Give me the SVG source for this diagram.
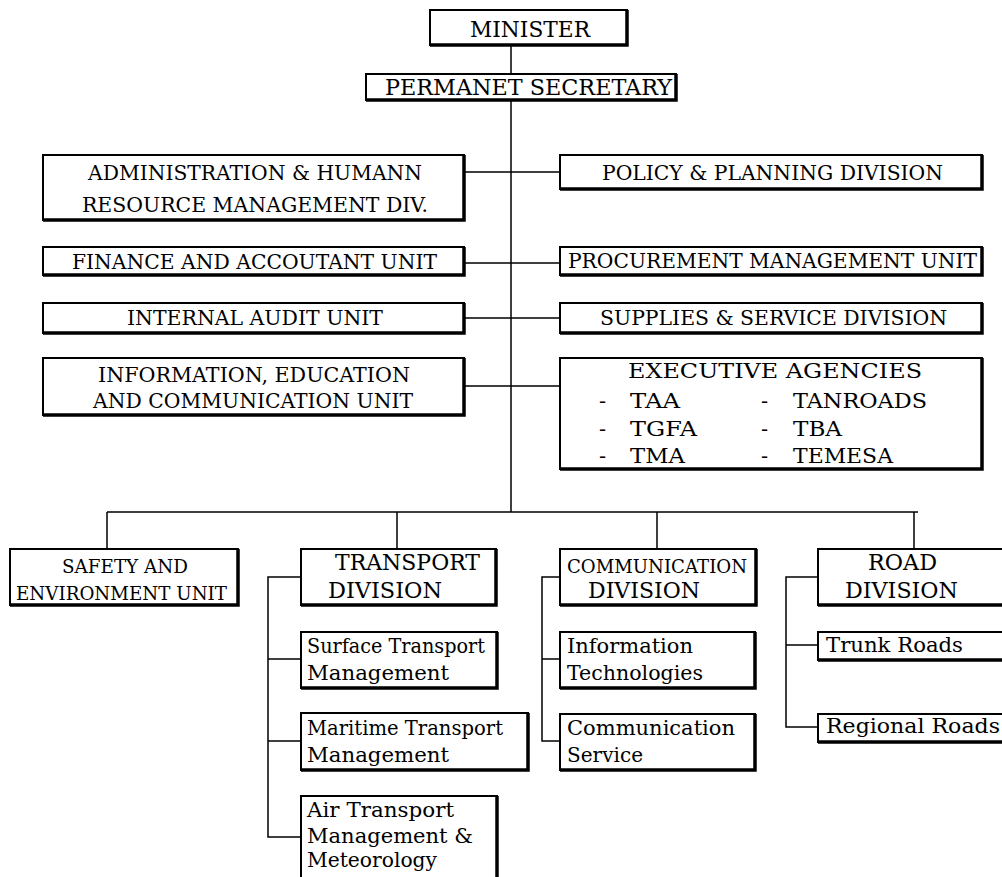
<svg xmlns="http://www.w3.org/2000/svg" width="1002" height="877" viewBox="0 0 1002 877">
<style>
.b rect{fill:#fff;stroke:#000;stroke-width:2}
.b path{fill:none;stroke:#000;stroke-width:3.5}
.c path{fill:none;stroke:#000;stroke-width:1.5}
text{font-family:'DejaVu Serif','Liberation Serif',serif;fill:#000;font-size:21px}
.s{font-size:18px}
.l{font-size:22px}
</style>
<rect width="1002" height="877" fill="#fff"/>
<g class="c" id="connectors">
<path d="M511 45V74M511 100V512"/>
<path d="M464 172H560M464 263H560M464 318H560M464 386H560"/>
<path d="M107 512H918M107 512V549M397 512V549M657 512V549M914 512V549"/>
<path d="M301 577H268V837H301M268 659H301M268 741H301"/>
<path d="M560 577H542V741H560M542 659H560"/>
<path d="M818 577H786V727H818M786 645H818"/>
</g>
<g class="b" id="minister"><rect x="430" y="10" width="197" height="35"/><path d="M627 10V45H430"/>
<text x="470" y="37" class="l" textLength="120" lengthAdjust="spacingAndGlyphs">MINISTER</text></g>
<g class="b" id="ps"><rect x="366" y="74" width="310" height="26"/><path d="M676 74V100H366"/>
<text x="385" y="95" class="l" textLength="287" lengthAdjust="spacingAndGlyphs">PERMANET SECRETARY</text></g>
<g class="b" id="admin"><rect x="43" y="155" width="421" height="65"/><path d="M464 155V220H43"/>
<text x="88" y="180" textLength="334" lengthAdjust="spacingAndGlyphs">ADMINISTRATION &amp; HUMANN</text>
<text x="82" y="212" textLength="346" lengthAdjust="spacingAndGlyphs">RESOURCE MANAGEMENT DIV.</text></g>
<g class="b" id="finance"><rect x="43" y="247" width="421" height="28"/><path d="M464 247V275H43"/>
<text x="72" y="269" textLength="365" lengthAdjust="spacingAndGlyphs">FINANCE AND ACCOUTANT UNIT</text></g>
<g class="b" id="audit"><rect x="43" y="303" width="421" height="30"/><path d="M464 303V333H43"/>
<text x="127" y="325" textLength="256" lengthAdjust="spacingAndGlyphs">INTERNAL AUDIT UNIT</text></g>
<g class="b" id="iec"><rect x="43" y="358" width="421" height="57"/><path d="M464 358V415H43"/>
<text x="98" y="382" textLength="312" lengthAdjust="spacingAndGlyphs">INFORMATION, EDUCATION</text>
<text x="93" y="408" textLength="320" lengthAdjust="spacingAndGlyphs">AND COMMUNICATION UNIT</text></g>
<g class="b" id="policy"><rect x="560" y="155" width="422" height="34"/><path d="M982 155V189H560"/>
<text x="602" y="180" textLength="341" lengthAdjust="spacingAndGlyphs">POLICY &amp; PLANNING DIVISION</text></g>
<g class="b" id="procurement"><rect x="560" y="247" width="422" height="28"/><path d="M982 247V275H560"/>
<text x="568" y="268" textLength="409" lengthAdjust="spacingAndGlyphs">PROCUREMENT MANAGEMENT UNIT</text></g>
<g class="b" id="supplies"><rect x="560" y="303" width="422" height="30"/><path d="M982 303V333H560"/>
<text x="600" y="325" textLength="347" lengthAdjust="spacingAndGlyphs">SUPPLIES &amp; SERVICE DIVISION</text></g>
<g class="b" id="exec"><rect x="560" y="358" width="422" height="111"/><path d="M982 358V469H560"/>
<text x="628" y="378" textLength="294" lengthAdjust="spacingAndGlyphs">EXECUTIVE AGENCIES</text>
<text x="599" y="408">-</text><text x="630" y="408" textLength="50" lengthAdjust="spacingAndGlyphs">TAA</text>
<text x="761" y="408">-</text><text x="793" y="408" textLength="134" lengthAdjust="spacingAndGlyphs">TANROADS</text>
<text x="599" y="436">-</text><text x="630" y="436" textLength="67" lengthAdjust="spacingAndGlyphs">TGFA</text>
<text x="761" y="436">-</text><text x="793" y="436" textLength="49" lengthAdjust="spacingAndGlyphs">TBA</text>
<text x="599" y="463">-</text><text x="630" y="463" textLength="55" lengthAdjust="spacingAndGlyphs">TMA</text>
<text x="761" y="463">-</text><text x="793" y="463" textLength="100" lengthAdjust="spacingAndGlyphs">TEMESA</text></g>
<g class="b" id="safety"><rect x="10" y="549" width="228" height="56"/><path d="M238 549V605H10"/>
<text x="62" y="573" class="s" textLength="126" lengthAdjust="spacingAndGlyphs">SAFETY AND</text>
<text x="16" y="600" class="s" textLength="211" lengthAdjust="spacingAndGlyphs">ENVIRONMENT UNIT</text></g>
<g class="b" id="transport"><rect x="301" y="549" width="195" height="56"/><path d="M496 549V605H301"/>
<text x="335" y="570" class="l" textLength="145" lengthAdjust="spacingAndGlyphs">TRANSPORT</text>
<text x="328" y="598" class="l" textLength="114" lengthAdjust="spacingAndGlyphs">DIVISION</text></g>
<g class="b" id="communication"><rect x="560" y="549" width="196" height="56"/><path d="M756 549V605H560"/>
<text x="567" y="573" class="s" textLength="180" lengthAdjust="spacingAndGlyphs">COMMUNICATION</text>
<text x="588" y="598" class="l" textLength="112" lengthAdjust="spacingAndGlyphs">DIVISION</text></g>
<g class="b" id="road"><rect x="818" y="549" width="200" height="56"/><path d="M1018 549V605H818"/>
<text x="868" y="570" class="l" textLength="69" lengthAdjust="spacingAndGlyphs">ROAD</text>
<text x="845" y="598" class="l" textLength="113" lengthAdjust="spacingAndGlyphs">DIVISION</text></g>
<g class="b" id="surface"><rect x="301" y="632" width="196" height="56"/><path d="M497 632V688H301"/>
<text x="307" y="653" textLength="178" lengthAdjust="spacingAndGlyphs">Surface Transport</text>
<text x="307" y="680" textLength="142" lengthAdjust="spacingAndGlyphs">Management</text></g>
<g class="b" id="maritime"><rect x="301" y="713" width="227" height="57"/><path d="M528 713V770H301"/>
<text x="307" y="735" textLength="196" lengthAdjust="spacingAndGlyphs">Maritime Transport</text>
<text x="307" y="762" textLength="142" lengthAdjust="spacingAndGlyphs">Management</text></g>
<g class="b" id="air"><rect x="301" y="796" width="196" height="100"/><path d="M497 796V896H301"/>
<text x="307" y="817" textLength="147" lengthAdjust="spacingAndGlyphs">Air Transport</text>
<text x="307" y="843" textLength="166" lengthAdjust="spacingAndGlyphs">Management &amp;</text>
<text x="307" y="867" textLength="130" lengthAdjust="spacingAndGlyphs">Meteorology</text></g>
<g class="b" id="infotech"><rect x="560" y="632" width="195" height="56"/><path d="M755 632V688H560"/>
<text x="567" y="653" textLength="126" lengthAdjust="spacingAndGlyphs">Information</text>
<text x="567" y="680" textLength="136" lengthAdjust="spacingAndGlyphs">Technologies</text></g>
<g class="b" id="commservice"><rect x="560" y="714" width="195" height="56"/><path d="M755 714V770H560"/>
<text x="567" y="735" textLength="168" lengthAdjust="spacingAndGlyphs">Communication</text>
<text x="567" y="762" textLength="76" lengthAdjust="spacingAndGlyphs">Service</text></g>
<g class="b" id="trunk"><rect x="818" y="632" width="200" height="28"/><path d="M1018 632V660H818"/>
<text x="826" y="652" textLength="137" lengthAdjust="spacingAndGlyphs">Trunk Roads</text></g>
<g class="b" id="regional"><rect x="818" y="714" width="200" height="28"/><path d="M1018 714V742H818"/>
<text x="826" y="733" textLength="174" lengthAdjust="spacingAndGlyphs">Regional Roads</text></g>
</svg>
